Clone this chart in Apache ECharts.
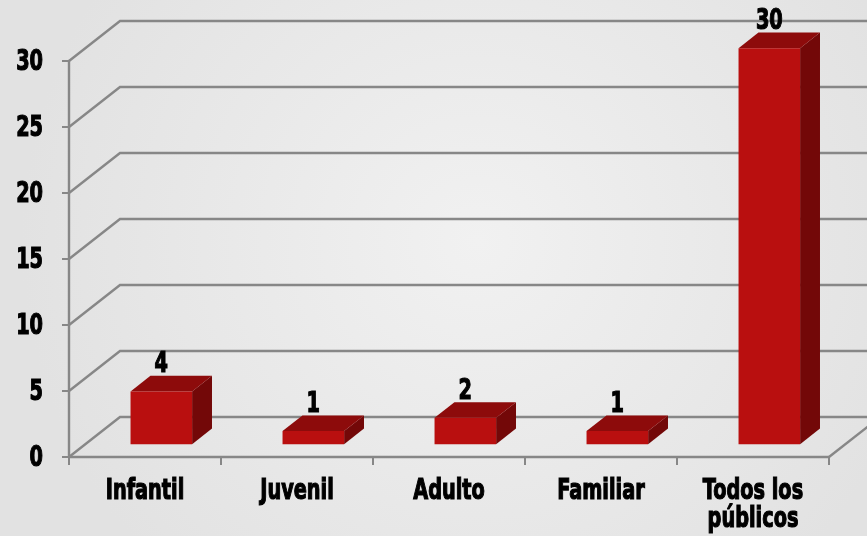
<!DOCTYPE html>
<html>
<head>
<meta charset="utf-8">
<script src="https://cdn.jsdelivr.net/npm/echarts@6/dist/echarts.min.js"></script>
<style>
html,body{margin:0;padding:0;}
#chart{width:867px;height:536px;}
</style>
</head>
<body>
<div id="chart"></div>
<script>
const categories = ['Infantil', 'Juvenil', 'Adulto', 'Familiar', 'Todos los\npúblicos'];
const values = [4, 1, 2, 1, 30];
const yTicks = [0, 5, 10, 15, 20, 25, 30];

const FONT = "'Liberation Sans Narrow', 'DejaVu Sans Condensed', 'DejaVu Sans', sans-serif";
const TEXT_FONT = 'bold 29px ' + FONT;
const TEXT_SCALE_X = 0.74;        // condensed look
const DX = 51, DY = -40;          // depth of the floor / walls
const BAR_SHIFT = 0.32;           // bar front placement in depth
const BAR_DEPTH = 0.39;           // bar depth as fraction of floor depth
const BAR_W = 0.405;              // bar width fraction of category band
const GRID_COLOR = '#878787';

const chart = echarts.init(document.getElementById('chart'));

function scaledText(x, y, text, align, vAlign, lineHeight) {
  return {
    type: 'text', x: x, y: y, scaleX: TEXT_SCALE_X, scaleY: 1, originX: 0, originY: 0,
    style: {text: text, fill: '#000', stroke: '#000', lineWidth: 1.2, font: TEXT_FONT,
      align: align, verticalAlign: vAlign, lineHeight: lineHeight || 30}
  };
}

const option = {
  backgroundColor: {
    type: 'radial', x: 0.55, y: 0.45, r: 0.85,
    colorStops: [{offset: 0, color: '#f1f1f1'}, {offset: 1, color: '#e2e2e2'}]
  },
  animation: false,
  grid: {left: 69, right: 38, top: 61, bottom: 79},
  xAxis: {
    type: 'category',
    data: categories,
    boundaryGap: true,
    axisLine: {show: true, lineStyle: {color: GRID_COLOR, width: 2.4}},
    axisTick: {show: true, length: 8, alignWithLabel: false, interval: 0, lineStyle: {color: GRID_COLOR, width: 2}},
    axisLabel: {show: false}
  },
  yAxis: {
    type: 'value',
    min: 0, max: 30, interval: 5,
    splitLine: {show: false},
    axisLine: {show: true, lineStyle: {color: GRID_COLOR, width: 2.4}},
    axisTick: {show: true, length: 7, lineStyle: {color: GRID_COLOR, width: 2}},
    axisLabel: {show: false}
  },
  series: [
    {
      // perspective gridlines + y tick labels
      type: 'custom',
      z: 1,
      silent: true,
      data: yTicks.map(v => [0, v]),
      renderItem: function (params, api) {
        const cs = params.coordSys;
        const v = api.value(1);
        const y = api.coord([0, v])[1];
        const x0 = cs.x, x1 = cs.x + cs.width;
        const children = [{
          type: 'polyline',
          shape: {points: [[x0, y], [x0 + DX, y + DY], [x1 + DX + 100, y + DY]]},
          style: {stroke: GRID_COLOR, lineWidth: 2.4, fill: null}
        }];
        if (v === 0) {
          children.push({
            type: 'line',
            shape: {x1: x1, y1: y, x2: x1 + DX, y2: y + DY},
            style: {stroke: GRID_COLOR, lineWidth: 2.4}
          });
        }
        children.push(scaledText(x0 - 26, y + 1, String(v), 'right', 'middle'));
        return {type: 'group', children: children};
      }
    },
    {
      // category labels
      type: 'custom',
      z: 2,
      silent: true,
      data: categories.map((c, i) => [i, 0]),
      renderItem: function (params, api) {
        const i = api.value(0);
        const p = api.coord([i, 0]);
        return scaledText(p[0], p[1] + 20, categories[i], 'center', 'top', 28);
      }
    },
    {
      type: 'custom',
      z: 3,
      data: values.map((v, i) => [i, v]),
      renderItem: function (params, api) {
        const i = api.value(0), v = api.value(1);
        const base = api.coord([i, 0]);
        const top = api.coord([i, v]);
        const band = api.size([1, 0])[0];
        const w = band * BAR_W;
        const sx = DX * BAR_SHIFT, sy = DY * BAR_SHIFT;
        const bx = DX * BAR_DEPTH, by = DY * BAR_DEPTH;
        const x0 = base[0] - w / 2 + sx, x1 = base[0] + w / 2 + sx;
        const yb = base[1] + sy, yt = top[1] + sy;
        return {
          type: 'group',
          children: [
            {type: 'polygon', shape: {points: [[x1, yt], [x1 + bx, yt + by], [x1 + bx, yb + by], [x1, yb]]}, style: {fill: '#730808'}},
            {type: 'polygon', shape: {points: [[x0, yt], [x1, yt], [x1 + bx, yt + by], [x0 + bx, yt + by]]}, style: {fill: '#8d0b0b'}},
            {type: 'rect', shape: {x: x0, y: yt, width: x1 - x0, height: yb - yt}, style: {fill: '#b90f0f'}},
            scaledText((x0 + x1) / 2, yt + by + 4, String(v), 'center', 'bottom')
          ]
        };
      }
    }
  ]
};
chart.setOption(option);
</script>
</body>
</html>
